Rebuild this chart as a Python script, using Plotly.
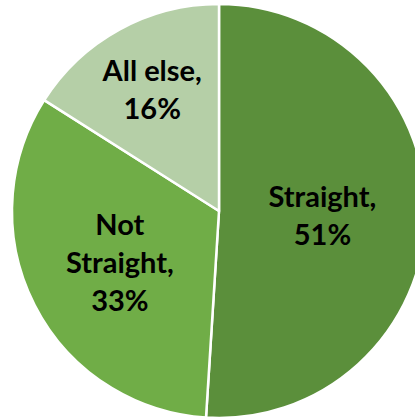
import plotly.graph_objects as go

categories = ["Straight", "Not Straight", "All else"]
label_text = ["Straight,", "Not<br>Straight,", "All else,"]
values = [51, 33, 16]
colors = ["#5b8f3b", "#70ad47", "#b5cfa7"]

W, H = 437, 420
fig = go.Figure(go.Pie(
    labels=categories,
    values=values,
    text=label_text,
    sort=False,
    direction="clockwise",
    rotation=0,
    marker=dict(colors=colors, line=dict(color="white", width=2.5)),
    texttemplate="<b>%{text}<br>%{value}%</b>",
    textposition="inside",
    insidetextorientation="horizontal",
    textfont=dict(family="Lato", size=29, color="black"),
    domain=dict(x=[12 / W, 426 / W], y=[2 / H, 416 / H]),
    showlegend=False,
    hoverinfo="label+percent",
))
fig.update_layout(
    width=W, height=H,
    margin=dict(l=0, r=0, t=0, b=0),
    paper_bgcolor="white",
    plot_bgcolor="white",
)
fig.write_html(
    "out.html",
    config={"displayModeBar": False},
    post_script="document.body.style.margin='0';document.body.style.overflow='hidden';document.documentElement.style.overflow='hidden';",
)
